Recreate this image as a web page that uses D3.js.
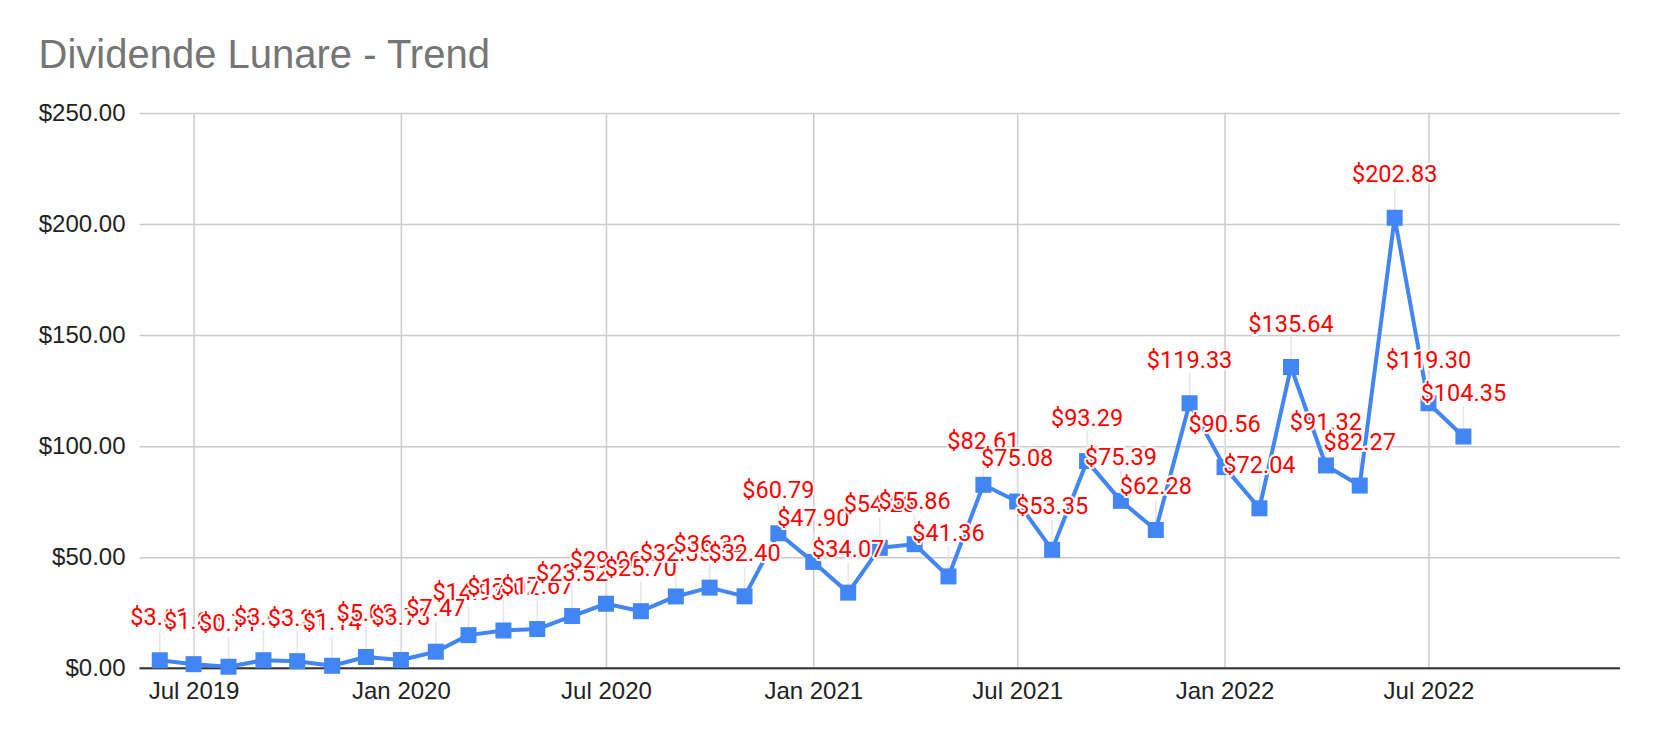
<html>
<head>
<script src="https://d3js.org/d3.v7.min.js"></script>
<style>
  body { margin: 0; background: #fff; }
</style>
</head>
<body>
<svg id="chart" width="1658" height="742"></svg>
<script>
// monthly dividend totals
const months = ['2019-06','2019-07','2019-08','2019-09','2019-10','2019-11','2019-12',
                '2020-01','2020-02','2020-03','2020-04','2020-05','2020-06','2020-07','2020-08','2020-09','2020-10','2020-11','2020-12',
                '2021-01','2021-02','2021-03','2021-04','2021-05','2021-06','2021-07','2021-08','2021-09','2021-10','2021-11','2021-12',
                '2022-01','2022-02','2022-03','2022-04','2022-05','2022-06','2022-07','2022-08']
const values = [3.61, 1.86, 0.71, 3.63, 3.21, 1.14, 5.09,
                3.73, 7.47, 14.93, 17.02, 17.67, 23.52, 29.06, 25.70, 32.35, 36.32, 32.40, 60.79,
                47.90, 34.07, 54.23, 55.86, 41.36, 82.61, 75.08, 53.35, 93.29, 75.39, 62.28, 119.33,
                90.56, 72.04, 135.64, 91.32, 82.27, 202.83, 119.30, 104.35]
const yTicks = [0, 50, 100, 150, 200, 250]
const xTicks = ['2019-07','2020-01','2020-07','2021-01','2021-07','2022-01','2022-07']
const title = 'Dividende Lunare - Trend'

const parse = d3.timeParse('%Y-%m')
const data = months.map((m, i) => ({date: parse(m), value: values[i]}))

const svg = d3.select('svg#chart')
const plotLeft = 139.5, plotRight = 1620, plotTop = 113, plotBottom = 668.3

const xScale = d3.scaleTime()
  .domain([new Date(2019, 4, 14), new Date(2022, 11, 18)])
  .range([plotLeft, plotRight])
const yScale = d3.scaleLinear().domain([0, 250]).range([plotBottom, plotTop])

const money = d3.format('$,.2f')
const axisFont = '"Liberation Sans", Arial, sans-serif'

svg.append('text')
  .attr('x', 38.5).attr('y', 68)
  .attr('font-family', axisFont)
  .attr('font-size', 40)
  .attr('fill', '#757575')
  .text(title)

// horizontal gridlines + labels
const yAxis = d3.axisLeft(yScale).tickValues(yTicks).tickSize(-(plotRight - plotLeft)).tickFormat(money).tickPadding(14)
svg.append('g')
  .attr('class', 'y axis')
  .attr('transform', `translate(${plotLeft},0)`)
  .call(yAxis)
  .call(g => g.select('.domain').remove())
  .call(g => g.selectAll('line').attr('stroke', '#cccccc').attr('stroke-width', 1.5))
  .call(g => g.selectAll('text').attr('font-family', axisFont).attr('font-size', 24).attr('fill', '#222'))

// vertical gridlines + month labels
const xAxis = d3.axisBottom(xScale).tickValues(xTicks.map(parse)).tickSize(-(plotBottom - plotTop)).tickFormat(d3.timeFormat('%b %Y')).tickPadding(14)
svg.append('g')
  .attr('class', 'x axis')
  .attr('transform', `translate(0,${plotBottom})`)
  .call(xAxis)
  .call(g => g.select('.domain').remove())
  .call(g => g.selectAll('line').attr('stroke', '#cccccc').attr('stroke-width', 1.5))
  .call(g => g.selectAll('text').attr('font-family', axisFont).attr('font-size', 24).attr('fill', '#222'))

// baseline
svg.append('line')
  .attr('x1', plotLeft).attr('x2', plotRight)
  .attr('y1', yScale(0)).attr('y2', yScale(0))
  .attr('stroke', '#333').attr('stroke-width', 2)

const chart = svg.append('g')

// leader lines from point to label
chart.selectAll('line.leader').data(data)
  .join('line')
  .attr('class', 'leader')
  .attr('x1', d => xScale(d.date)).attr('x2', d => xScale(d.date))
  .attr('y1', d => yScale(d.value)).attr('y2', d => yScale(d.value) - 30)
  .attr('stroke', '#e6e6e6').attr('stroke-width', 1.5)

const line = d3.line().x(d => xScale(d.date)).y(d => yScale(d.value))
chart.append('path')
  .datum(data)
  .attr('d', line)
  .attr('fill', 'none')
  .attr('stroke', '#4285F4')
  .attr('stroke-width', 4)
  .attr('stroke-linejoin', 'round')

chart.selectAll('rect.pt').data(data)
  .join('rect')
  .attr('class', 'pt')
  .attr('x', d => xScale(d.date) - 8)
  .attr('y', d => yScale(d.value) - 8)
  .attr('width', 16).attr('height', 16)
  .attr('fill', '#4285F4')

chart.selectAll('text.lbl').data(data)
  .join('text')
  .attr('class', 'lbl')
  .attr('x', d => xScale(d.date))
  .attr('y', d => yScale(d.value) - 35.5)
  .attr('text-anchor', 'middle')
  .attr('font-family', 'Roboto, sans-serif')
  .attr('font-size', 23.5)
  .attr('fill', '#ff0000')
  .attr('stroke', '#fff')
  .attr('stroke-width', 4)
  .attr('stroke-linejoin', 'round')
  .attr('paint-order', 'stroke')
  .text(d => money(d.value))
</script>
</body>
</html>
